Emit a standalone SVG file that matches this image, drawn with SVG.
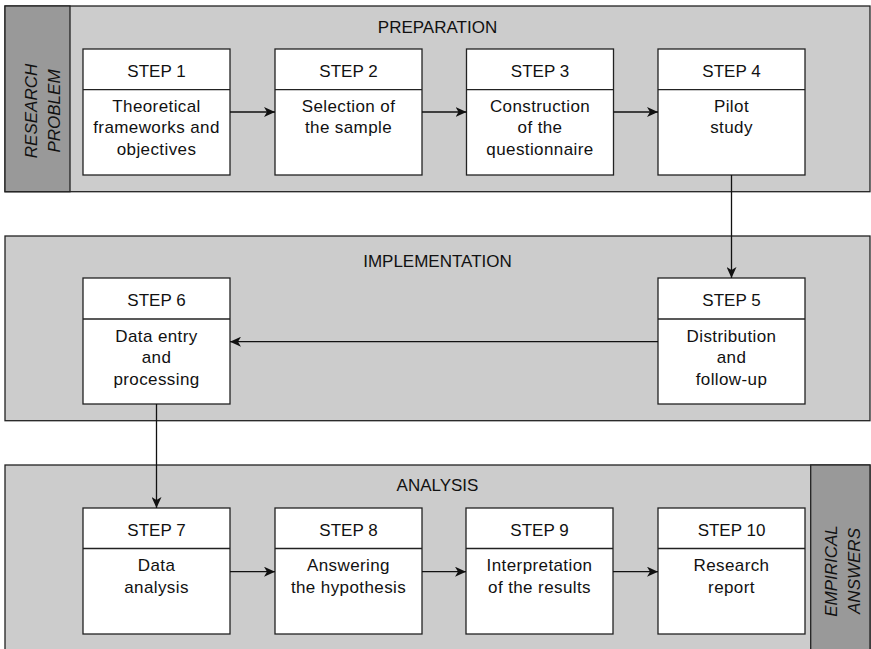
<svg xmlns="http://www.w3.org/2000/svg" width="871" height="649" viewBox="0 0 871 649">
<defs>
<style>
.panel{fill:#cccccc;stroke:#222;stroke-width:1.3}
.side{fill:#999999;stroke:#222;stroke-width:1.3}
.box{fill:#ffffff;stroke:#222;stroke-width:1.3}
.div{stroke:#222;stroke-width:1.3;fill:none}
text{font-family:"Liberation Sans",Arial,sans-serif;font-size:17px;fill:#111;text-anchor:middle}
.body{letter-spacing:0.4px}
.it{font-style:italic;font-size:17px}
.conn{stroke:#111;stroke-width:1.3;fill:none;marker-end:url(#ah)}
</style>
<marker id="ah" markerWidth="12" markerHeight="10" refX="11" refY="5" orient="auto" markerUnits="userSpaceOnUse">
<path d="M0,0 L11,5 L0,10 L3,5 Z" fill="#111"/>
</marker>
</defs>

<g id="panel-preparation">
<rect class="panel" x="5" y="6" width="865" height="185.7"/>
<rect class="side" x="5" y="6" width="65" height="185.7"/>
<text x="437.5" y="33">PREPARATION</text>
<g transform="translate(37.5,111) rotate(-90)">
<text class="it" x="0" y="-1">RESEARCH</text>
<text class="it" x="0" y="22.5">PROBLEM</text>
</g>
</g>

<g id="panel-implementation">
<rect class="panel" x="5" y="236" width="865" height="184.7"/>
<text x="437.5" y="266.7">IMPLEMENTATION</text>
</g>

<g id="panel-analysis">
<rect class="panel" x="5" y="465" width="865" height="190"/>
<rect class="side" x="810.7" y="465" width="59.3" height="190"/>
<text x="437.5" y="490.7">ANALYSIS</text>
<g transform="translate(841,571) rotate(-90)">
<text class="it" x="0" y="-4">EMPIRICAL</text>
<text class="it" x="0" y="18.5">ANSWERS</text>
</g>
</g>

<g id="step1">
<rect class="box" x="83" y="49" width="147" height="126"/>
<line class="div" x1="83" y1="89.7" x2="230" y2="89.7"/>
<text x="156.5" y="77">STEP 1</text>
<text class="body" x="156.5" y="111.7">Theoretical</text>
<text class="body" x="156.5" y="133.3">frameworks and</text>
<text class="body" x="156.5" y="155">objectives</text>
</g>
<g id="step2">
<rect class="box" x="275" y="49" width="147" height="126"/>
<line class="div" x1="275" y1="89.7" x2="422" y2="89.7"/>
<text x="348.5" y="77">STEP 2</text>
<text class="body" x="348.5" y="111.7">Selection of</text>
<text class="body" x="348.5" y="133.3">the sample</text>
</g>
<g id="step3">
<rect class="box" x="466.5" y="49" width="147" height="126"/>
<line class="div" x1="466.5" y1="89.7" x2="613.5" y2="89.7"/>
<text x="540" y="77">STEP 3</text>
<text class="body" x="540" y="111.7">Construction</text>
<text class="body" x="540" y="133.3">of the</text>
<text class="body" x="540" y="155">questionnaire</text>
</g>
<g id="step4">
<rect class="box" x="658" y="49" width="147" height="126"/>
<line class="div" x1="658" y1="89.7" x2="805" y2="89.7"/>
<text x="731.5" y="77">STEP 4</text>
<text class="body" x="731.5" y="111.7">Pilot</text>
<text class="body" x="731.5" y="133.3">study</text>
</g>

<g id="step5">
<rect class="box" x="658" y="278" width="147" height="126"/>
<line class="div" x1="658" y1="319" x2="805" y2="319"/>
<text x="731.5" y="306">STEP 5</text>
<text class="body" x="731.5" y="341.5">Distribution</text>
<text class="body" x="731.5" y="363.2">and</text>
<text class="body" x="731.5" y="385">follow-up</text>
</g>
<g id="step6">
<rect class="box" x="83" y="278" width="147" height="126"/>
<line class="div" x1="83" y1="319" x2="230" y2="319"/>
<text x="156.5" y="306">STEP 6</text>
<text class="body" x="156.5" y="341.5">Data entry</text>
<text class="body" x="156.5" y="363.2">and</text>
<text class="body" x="156.5" y="385">processing</text>
</g>

<g id="step7">
<rect class="box" x="83" y="508" width="147" height="126"/>
<line class="div" x1="83" y1="548.5" x2="230" y2="548.5"/>
<text x="156.5" y="536">STEP 7</text>
<text class="body" x="156.5" y="570.7">Data</text>
<text class="body" x="156.5" y="592.5">analysis</text>
</g>
<g id="step8">
<rect class="box" x="275" y="508" width="147" height="126"/>
<line class="div" x1="275" y1="548.5" x2="422" y2="548.5"/>
<text x="348.5" y="536">STEP 8</text>
<text class="body" x="348.5" y="570.7">Answering</text>
<text class="body" x="348.5" y="592.5">the hypothesis</text>
</g>
<g id="step9">
<rect class="box" x="466" y="508" width="147" height="126"/>
<line class="div" x1="466" y1="548.5" x2="613" y2="548.5"/>
<text x="539.5" y="536">STEP 9</text>
<text class="body" x="539.5" y="570.7">Interpretation</text>
<text class="body" x="539.5" y="592.5">of the results</text>
</g>
<g id="step10">
<rect class="box" x="658" y="508" width="147" height="126"/>
<line class="div" x1="658" y1="548.5" x2="805" y2="548.5"/>
<text x="731.5" y="536">STEP 10</text>
<text class="body" x="731.5" y="570.7">Research</text>
<text class="body" x="731.5" y="592.5">report</text>
</g>

<g id="connectors">
<line class="conn" x1="230" y1="112" x2="275" y2="112"/>
<line class="conn" x1="422" y1="112" x2="466.5" y2="112"/>
<line class="conn" x1="613.5" y1="112" x2="658" y2="112"/>
<line class="conn" x1="731.5" y1="175" x2="731.5" y2="278"/>
<line class="conn" x1="658" y1="341.7" x2="230" y2="341.7"/>
<line class="conn" x1="156.5" y1="404" x2="156.5" y2="508"/>
<line class="conn" x1="230" y1="571.7" x2="275" y2="571.7"/>
<line class="conn" x1="422" y1="571.7" x2="466" y2="571.7"/>
<line class="conn" x1="613" y1="571.7" x2="658" y2="571.7"/>
</g>
</svg>
